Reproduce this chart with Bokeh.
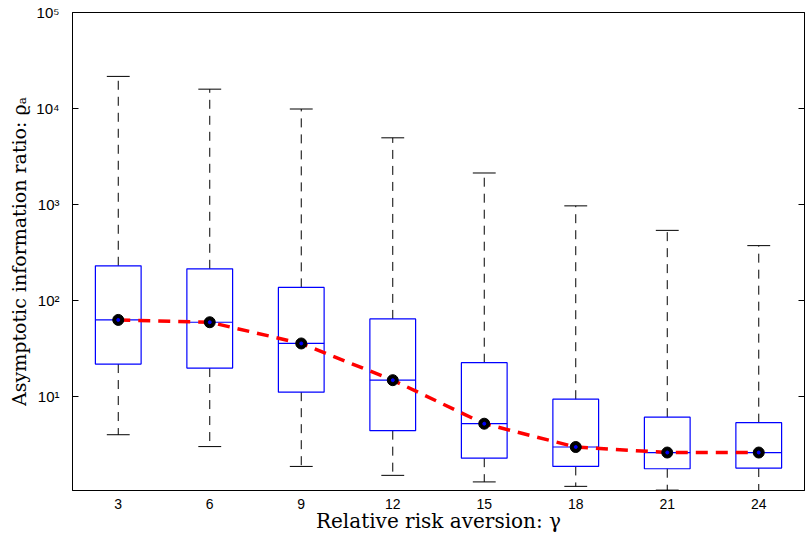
from bokeh.plotting import figure
from bokeh.models import Range1d, FixedTicker, LogAxis, ColumnDataSource
from bokeh.embed import file_html
from bokeh.resources import INLINE

# Data
gamma = [3, 6, 9, 12, 15, 18, 21, 24]
upper_whisker = [21600, 15900, 9880, 4950, 2130, 968, 538, 373]
q3 = [230, 214, 137, 64.3, 22.5, 9.38, 6.1, 5.34]
median = [62.8, 59.4, 35.7, 14.8, 5.21, 2.98, 2.61, 2.61]
q1 = [21.8, 19.8, 11.1, 4.41, 2.28, 1.87, 1.77, 1.80]
lower_whisker = [4.0, 3.01, 1.87, 1.51, 1.29, 1.16, 1.06, 1.0]
y_ticks = [10, 100, 1000, 10000, 100000]
y_tick_labels = ["10\u00b9", "10\u00b2", "10\u00b3", "10\u2074", "10\u2075"]

box_half = 0.75
cap_half = 0.375

src = ColumnDataSource(dict(
    x=gamma,
    left=[g - box_half for g in gamma],
    right=[g + box_half for g in gamma],
    cl=[g - cap_half for g in gamma],
    cr=[g + cap_half for g in gamma],
    up=upper_whisker, q3=q3, med=median, q1=q1, lo=lower_whisker,
))

p = figure(frame_width=732, frame_height=478, y_axis_type="log",
           x_range=Range1d(1.5, 25.5), y_range=Range1d(1.05, 1e5),
           output_backend="svg", toolbar_location=None,
           min_border_left=72, min_border_right=2, min_border_top=12, min_border_bottom=0)
p.background_fill_color = "white"
p.border_fill_color = "white"
p.outline_line_color = "black"
p.outline_line_width = 1
p.xgrid.visible = False
p.ygrid.visible = False

# whiskers
p.segment(x0="x", y0="q3", x1="x", y1="up", source=src, line_color="black",
          line_dash="9 7", line_width=1)
p.segment(x0="x", y0="q1", x1="x", y1="lo", source=src, line_color="black",
          line_dash="9 7", line_width=1)
# caps
p.segment(x0="cl", y0="up", x1="cr", y1="up", source=src, line_color="black", line_width=1)
p.segment(x0="cl", y0="lo", x1="cr", y1="lo", source=src, line_color="black", line_width=1)
# boxes
p.quad(left="left", right="right", bottom="q1", top="q3", source=src,
       fill_color=None, line_color="#0000ff", line_width=1.2)
# medians
p.segment(x0="left", y0="med", x1="right", y1="med", source=src,
          line_color="#0000ff", line_width=1.2)
# red dashed line through medians
p.line(x="x", y="med", source=src, line_color="#ff0000", line_width=3.5, line_dash="12 8")
# median markers
p.scatter(x="x", y="med", source=src, size=11, marker="circle",
          fill_color="black", line_color="black")
p.scatter(x="x", y="med", source=src, size=3, marker="circle",
          fill_color="#0000ff", line_color="#0000ff")

# axes
xa = p.xaxis[0]
xa.ticker = FixedTicker(ticks=gamma)
xa.major_tick_in = 0
xa.major_tick_out = 0
xa.minor_tick_in = 0
xa.minor_tick_out = 0
xa.axis_line_color = "black"
xa.major_label_text_font = "Liberation Sans"
xa.major_label_text_font_size = "14px"
xa.major_label_text_color = "black"
xa.major_label_standoff = 8
xa.axis_label = "Relative risk aversion: \u03b3"
xa.axis_label_text_font = "DejaVu Serif"
xa.axis_label_text_font_style = "normal"
xa.axis_label_text_font_size = "20px"
xa.axis_label_text_color = "black"
xa.axis_label_standoff = -3

ya = p.yaxis[0]
ya.ticker = FixedTicker(ticks=y_ticks, minor_ticks=[])
ya.major_label_overrides = {t: l for t, l in zip(y_ticks, y_tick_labels)}
ya.major_tick_in = 6
ya.major_tick_out = 0
ya.minor_tick_in = 0
ya.minor_tick_out = 0
ya.axis_line_color = "black"
ya.major_label_text_font = "Liberation Sans"
ya.major_label_text_font_size = "15px"
ya.major_label_text_color = "black"
ya.major_label_standoff = 13
ya.axis_label = "Asymptotic information ratio: \u03f1\u2090"
ya.axis_label_text_font = "DejaVu Serif"
ya.axis_label_text_font_style = "normal"
ya.axis_label_text_font_size = "19px"
ya.axis_label_text_color = "black"
ya.axis_label_standoff = 3

ra = LogAxis(ticker=FixedTicker(ticks=y_ticks, minor_ticks=[]))
ra.major_label_overrides = {t: " " for t in y_ticks}
ra.major_label_text_font_size = "2px"
ra.major_tick_in = 6
ra.major_tick_out = 0
ra.minor_tick_in = 0
ra.minor_tick_out = 0
ra.major_label_standoff = 0
ra.axis_line_color = "black"
p.add_layout(ra, "right")

open("out.html", "w").write(file_html(p, INLINE))
